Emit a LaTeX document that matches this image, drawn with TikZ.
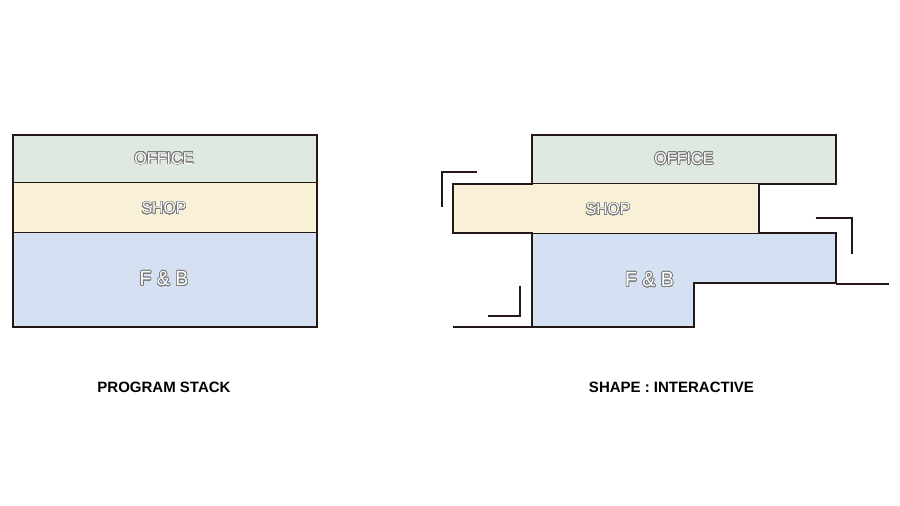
\documentclass[tikz,border=0pt]{standalone}
\usepackage{fontspec}
\setmainfont{Liberation Sans}
\usepackage[copies]{contour}
\usepackage{graphicx}
\contourlength{0.7pt}
\contournumber{24}
\definecolor{officec}{HTML}{DFE9DF}
\definecolor{shopc}{HTML}{F8F1D8}
\definecolor{fbc}{HTML}{D5E1F3}
\definecolor{inkc}{HTML}{231815}
\definecolor{outc}{HTML}{7A7A7A}
\newcommand{\olab}[2]{\scalebox{0.95}[1]{\fontsize{#1}{#1}\selectfont\color{white}\contour{outc}{#2}}}
\begin{document}
\begin{tikzpicture}[x=1pt,y=-1pt,
  thick line/.style={draw=inkc,line width=2pt},
  thin line/.style={draw=inkc,line width=1pt},
  mark line/.style={draw=inkc,line width=2pt},
  boxlab/.style={inner sep=0pt,anchor=center},
  caption/.style={inner sep=0pt,anchor=center,font=\bfseries\fontsize{15}{15}\selectfont}]
\useasboundingbox (0,0) rectangle (900,506);
% left stack
\fill[officec] (13,135) rectangle (317,182.3);
\fill[shopc] (13,182.3) rectangle (317,232.3);
\fill[fbc] (13,232.3) rectangle (317,326.5);
\draw[thin line] (13,182.3) -- (317,182.3);
\draw[thin line] (13,232.3) -- (317,232.3);
\draw[thick line] (13,135) rectangle (317,326.5);
\node[boxlab] (lo) at (164,158.5) {\olab{17}{OFFICE}};
\node[boxlab] (ls) at (164,208.5) {\olab{16.5}{SHOP}};
\node[boxlab] (lf) at (164,279) {\olab{20.5}{F \& B}};
% right shape
\fill[officec] (532,135) rectangle (836,183.5);
\fill[shopc] (453,183.5) rectangle (759,233.3);
\fill[fbc] (532,233.3) -- (836,233.3) -- (836,283.3) -- (694,283.3) -- (694,326.5) -- (532,326.5) -- cycle;
\draw[thin line] (532,183.5) -- (759,183.5);
\draw[thin line] (532,233.3) -- (759,233.3);
\draw[thick line,line join=miter] (532,135) -- (836,135) -- (836,183.5) -- (759,183.5) -- (759,233.3) -- (836,233.3) -- (836,283.3) -- (694,283.3) -- (694,326.5) -- (532,326.5) -- (532,233.3) -- (453,233.3) -- (453,183.5) -- (532,183.5) -- cycle;
\node[boxlab] (ro) at (684,159) {\olab{17}{OFFICE}};
\node[boxlab] (rs) at (608,209.5) {\olab{16.5}{SHOP}};
\node[boxlab] (rf) at (649.5,280) {\olab{20.5}{F \& B}};
% ground lines and brackets
\coordinate (g1) at (453,326.5);
\coordinate (g2) at (532,326.5);
\coordinate (g3) at (836,283.5);
\coordinate (g4) at (889,283.5);
\draw[mark line] (g1) -- (g2);
\draw[mark line] (g3) -- (g4);
\draw[mark line] (441.7,207) -- (441.7,172) -- (477,172);
\draw[mark line] (815.7,217.7) -- (852,217.7) -- (852,254);
\draw[mark line] (520,285.7) -- (520,315.5) -- (488,315.5);
% captions
\node[caption] (c1) at (164,387.5) {PROGRAM STACK};
\node[caption] (c2) at (671.5,387.5) {SHAPE : INTERACTIVE};
\end{tikzpicture}
\end{document}
